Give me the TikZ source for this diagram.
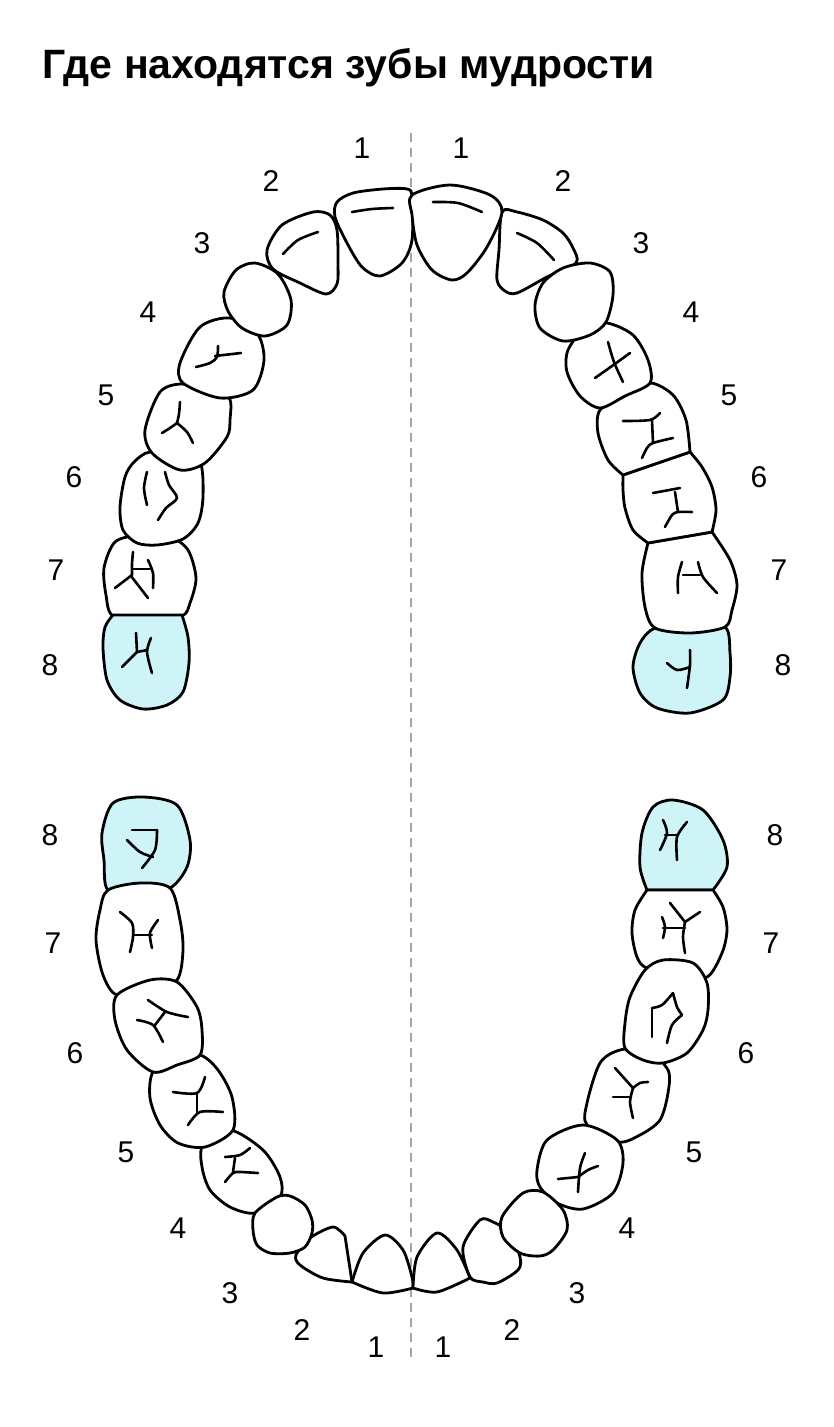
\documentclass[tikz,border=0pt]{standalone}
\usepackage{fontspec}
\setmainfont{Liberation Sans}
\definecolor{wisdomcyan}{RGB}{206,244,248}
\definecolor{midline}{RGB}{165,165,165}
\tikzset{
	tooth/.style={line width=2.8pt, line join=round, fill=white},
	wisdom/.style={tooth, fill=wisdomcyan},
	groove/.style={line width=2.6pt, line cap=round, line join=round},
	num/.style={inner sep=0pt, font=\fontsize{30}{30}\selectfont},
}
\begin{document}
\begin{tikzpicture}[x=1pt,y=-1pt]
		%%%%% START %%%%%
		\fill[white] (0,0) rectangle (834,1427);
		\useasboundingbox (0,0) rectangle (834,1427);
		
		\node[anchor=base west, inner sep=0pt, font=\fontsize{41}{41}\selectfont\bfseries] (title) at (42,78) {Где находятся зубы мудрости};
		
		\coordinate (midtop) at (411,133);
		\coordinate (midbot) at (411,1358);
		\draw[midline, line width=1.8pt, dash pattern=on 9pt off 6pt] (midtop) -- (midbot);
		
		%% upper left
		\draw[tooth] plot[smooth cycle] coordinates {(113,616) (106,595) (104,568) (115,542) (140,535) (170,537) (188,550) (196,578) (190,603) (182,616) (148,621)};
		\draw[wisdom] (113,615) -- plot[smooth] coordinates {(182,615) (188,637) (189,663) (183,692) (167,705) (143,709) (120,700) (107,680) (103,648) (105,627) (113,615)} -- cycle;
		\draw[tooth] plot[smooth cycle] coordinates {(150,452) (178,458) (200,462) (203,497) (198,523) (183,539) (157,545) (137,543) (123,530) (120,507) (125,477) (134,462)};
		\draw[tooth] plot[smooth cycle] coordinates {(160,392) (182,384) (205,392) (229,398) (230,420) (227,437) (205,463) (180,470) (152,453) (145,430)};
		\draw[tooth] plot[smooth cycle] coordinates {(180,363) (200,327) (230,318) (257,333) (264,360) (253,390) (220,398) (183,383)};
		\draw[tooth] plot[smooth cycle] coordinates {(267,250) (282,225) (313,212) (330,215) (337,230) (338,263) (337,284) (326,294) (300,283) (273,269)};
		\draw[tooth] plot[smooth cycle] coordinates {(224,292) (236,270) (255,263) (278,274) (291,300) (287,325) (265,336) (242,328) (228,311)};
		\draw[tooth] plot[smooth cycle] coordinates {(337,202) (353,193) (383,189) (407,189) (412,197) (412,240) (402,263) (380,276) (362,267) (347,243) (335,217)};
		
		\draw[groove] plot[smooth] coordinates {(352,212) (372,209) (393,208)};
		\draw[groove] plot[smooth] coordinates {(283,254) (298,240) (318,232)};
		\draw[groove] plot[smooth] coordinates {(196,367) (210,363) (217,357) (218,346)};
		\draw[groove] (215,356) -- (241,353);
		\draw[groove] plot[smooth] coordinates {(180,402) (179,414) (177,423)};
		\draw[groove] plot[smooth] coordinates {(177,423) (170,428) (162,433)};
		\draw[groove] plot[smooth] coordinates {(177,423) (187,432) (193,443)};
		\draw[groove] plot[smooth] coordinates {(147,472) (144,488) (147,505)};
		\draw[groove] plot[smooth] coordinates {(165,472) (169,485) (177,498) (166,508) (158,520)};
		\draw[groove] plot[smooth] coordinates {(133,552) (132,564) (132,575)};
		\draw[groove] (132,575) -- (115,588);
		\draw[groove] (131,576) -- (148,598);
		\draw[groove] (133,569) -- (150,569);
		\draw[groove] plot[smooth] coordinates {(148,560) (153,573) (153,588)};
		\draw[groove] (136,633) -- (137,652) -- (122,667);
		\draw[groove] (137,652) -- (147,650);
		\draw[groove] plot[smooth] coordinates {(151,638) (147,652) (152,673)};
		
		%% upper right
		\draw[wisdom] plot[smooth cycle] coordinates {(655,628) (690,624) (725,627) (730,653) (730,677) (723,700) (690,713) (657,708) (640,693) (633,667) (640,643)};
		\draw[tooth] (648,543) -- plot[smooth] coordinates {(712,532) (730,560) (737,585) (732,610) (725,627) (690,633) (655,628) (645,607) (642,573) (648,543)} -- cycle;
		\draw[tooth] (623,475) -- (690,452) -- plot[smooth] coordinates {(690,452) (702,467) (712,487) (716,510) (712,532)} -- (648,543) -- plot[smooth] coordinates {(648,543) (633,530) (625,508) (623,490) (623,475)} -- cycle;
		\draw[tooth] (690,452) -- (623,475) -- plot[smooth] coordinates {(623,475) (608,460) (598,433) (600,410) (625,396) (650,383) (673,395) (686,420) (690,452)} -- cycle;
		\draw[tooth] plot[smooth cycle] coordinates {(568,350) (585,328) (607,323) (633,335) (648,360) (650,383) (625,396) (600,408) (580,396) (567,372)};
		\draw[tooth] plot[smooth cycle] coordinates {(502,212) (517,212) (543,220) (563,233) (573,248) (576,263) (547,277) (517,293) (505,291) (497,280) (499,250)};
		\draw[tooth] plot[smooth cycle] coordinates {(543,283) (563,268) (590,263) (610,272) (613,295) (606,322) (590,335) (563,341) (540,328) (535,305)};
		\draw[tooth] plot[smooth cycle] coordinates {(412,195) (450,185) (490,195) (502,212) (487,247) (467,273) (452,280) (432,270) (417,245) (412,215)};
		
		\draw[groove] plot[smooth] coordinates {(433,202) (458,203) (482,212)};
		\draw[groove] plot[smooth] coordinates {(517,233) (537,243) (554,260)};
		\draw[groove] plot[smooth] coordinates {(608,342) (614,362) (623,382)};
		\draw[groove] plot[smooth] coordinates {(595,378) (612,366) (630,353)};
		\draw[groove] plot[smooth] coordinates {(623,421) (650,420) (660,413)};
		\draw[groove] (652,420) -- (653,443);
		\draw[groove] plot[smooth] coordinates {(642,458) (647,448) (653,443) (673,438)};
		\draw[groove] (653,493) -- (680,488);
		\draw[groove] (675,492) -- (678,512);
		\draw[groove] plot[smooth] coordinates {(665,527) (672,515) (678,512) (692,512)};
		\draw[groove] plot[smooth] coordinates {(682,562) (678,577) (678,593)};
		\draw[groove] (683,575) -- (700,575);
		\draw[groove] plot[smooth] coordinates {(698,562) (703,577) (717,593)};
		\draw[groove] plot[smooth] coordinates {(667,663) (677,670) (690,667)};
		\draw[groove] plot[smooth] coordinates {(690,650) (690,665) (687,688)};
		
		%% lower left
		\draw[wisdom] plot[smooth cycle] coordinates {(108,890) (104,860) (102,833) (113,803) (143,797) (177,805) (190,840) (187,867) (170,888) (140,890)};
		\draw[tooth] plot[smooth cycle] coordinates {(108,890) (140,883) (170,888) (180,920) (183,950) (177,980) (150,990) (117,995) (103,975) (96,940) (100,910)};
		\draw[tooth] plot[smooth cycle] coordinates {(203,1145) (230,1130) (263,1150) (280,1177) (280,1197) (255,1213) (230,1207) (210,1190) (202,1167)};
		\draw[tooth] plot[smooth cycle] coordinates {(153,1072) (175,1060) (200,1055) (218,1070) (232,1097) (233,1130) (205,1147) (178,1143) (160,1125) (150,1098)};
		\draw[tooth] plot[smooth cycle] coordinates {(117,995) (150,980) (177,982) (197,1007) (202,1030) (200,1055) (177,1065) (153,1072) (127,1050) (115,1020)};
		\draw[tooth] (352,1282) -- plot[smooth] coordinates {(352,1282) (323,1278) (300,1265) (296,1255) (310,1238) (333,1227) (345,1236)} -- cycle;
		\draw[tooth] plot[smooth cycle] coordinates {(255,1213) (277,1197) (290,1196) (305,1205) (312,1220) (312,1233) (305,1247) (290,1253) (270,1253) (257,1245) (253,1230)};
		\draw[tooth] (352,1282) -- plot[smooth] coordinates {(352,1282) (363,1253) (385,1235) (403,1250) (412,1277) (413,1288)} -- plot[smooth] coordinates {(413,1288) (383,1293) (352,1282)} -- cycle;
		
		\draw[groove] (132,830) -- (157,830);
		\draw[groove] plot[smooth] coordinates {(157,830) (155,850) (142,868)};
		\draw[groove] plot[smooth] coordinates {(127,840) (140,852) (153,857)};
		\draw[groove] plot[smooth] coordinates {(120,912) (132,923) (133,937) (130,952)};
		\draw[groove] (133,935) -- (152,935);
		\draw[groove] plot[smooth] coordinates {(158,920) (150,933) (152,948)};
		\draw[groove] plot[smooth] coordinates {(148,1000) (167,1012) (188,1017)};
		\draw[groove] (165,1012) -- (155,1025);
		\draw[groove] plot[smooth] coordinates {(137,1020) (153,1025) (163,1042)};
		\draw[groove] plot[smooth] coordinates {(173,1092) (197,1093) (205,1077)};
		\draw[groove] (197,1093) -- (197,1113);
		\draw[groove] plot[smooth] coordinates {(188,1125) (200,1112) (223,1112)};
		\draw[groove] plot[smooth] coordinates {(225,1157) (240,1155) (250,1148)};
		\draw[groove] (235,1158) -- (233,1172);
		\draw[groove] plot[smooth] coordinates {(225,1182) (233,1173) (240,1172) (258,1173)};
		
		%% lower right
		\draw[wisdom] (713,890) -- plot[smooth] coordinates {(647,890) (640,867) (642,833) (653,807) (673,800) (703,810) (723,840) (727,867) (713,890)} -- cycle;
		\draw[tooth] (647,890) -- plot[smooth] coordinates {(713,890) (723,907) (727,930) (722,953) (707,977) (680,972) (647,968) (637,957) (632,933) (635,910) (647,890)} -- cycle;
		\draw[tooth] plot[smooth cycle] coordinates {(587,1103) (600,1063) (620,1050) (647,1050) (668,1070) (668,1093) (660,1120) (640,1135) (618,1142) (587,1125)};
		\draw[tooth] plot[smooth cycle] coordinates {(537,1170) (547,1140) (583,1125) (617,1140) (623,1163) (613,1193) (583,1209) (557,1203) (540,1187)};
		\draw[tooth] plot[smooth cycle] coordinates {(625,1048) (625,1023) (630,997) (645,970) (663,960) (693,963) (707,983) (708,1010) (703,1030) (687,1053) (663,1063) (643,1060)};
		\draw[tooth] plot[smooth cycle] coordinates {(470,1277) (463,1247) (480,1220) (493,1222) (510,1233) (520,1257) (518,1270) (497,1283) (483,1282)};
		\draw[tooth] plot[smooth cycle] coordinates {(502,1217) (523,1193) (543,1192) (563,1210) (567,1230) (553,1250) (540,1256) (520,1253) (503,1237)};
		\draw[tooth] (413,1288) -- plot[smooth] coordinates {(413,1288) (417,1257) (437,1233) (457,1250) (470,1278)} -- plot[smooth] coordinates {(470,1278) (437,1292) (413,1288)} -- cycle;
		
		\draw[groove] (558,1179) -- (578,1177);
		\draw[groove] plot[smooth] coordinates {(578,1177) (588,1170) (598,1166)};
		\draw[groove] plot[smooth] coordinates {(585,1153) (580,1168) (578,1192)};
		\draw[groove] (615,1068) -- (633,1088);
		\draw[groove] plot[smooth] coordinates {(633,1088) (630,1102) (633,1118)};
		\draw[groove] (613,1097) -- (631,1097);
		\draw[groove] plot[smooth] coordinates {(633,1088) (640,1083) (648,1082)};
		\draw[groove] (652,1008) -- (652,1037);
		\draw[groove] plot[smooth] coordinates {(652,1008) (662,1005) (673,993)};
		\draw[groove] plot[smooth] coordinates {(673,993) (677,1007) (682,1015)};
		\draw[groove] plot[smooth] coordinates {(682,1015) (672,1025) (667,1043)};
		\draw[groove] plot[smooth] coordinates {(662,917) (665,927) (663,938)};
		\draw[groove] (663,928) -- (685,928);
		\draw[groove] (670,903) -- (685,922) -- (700,912);
		\draw[groove] plot[smooth] coordinates {(685,922) (683,937) (685,953)};
		\draw[groove] plot[smooth] coordinates {(663,820) (667,833) (660,850)};
		\draw[groove] (665,835) -- (678,835);
		\draw[groove] plot[smooth] coordinates {(687,822) (677,837) (677,860)};
		
		%% numbers
		\node[num] (ul1) at (362,148) {1};
		\node[num] (ul2) at (271,181) {2};
		\node[num] (ul3) at (202,243) {3};
		\node[num] (ul4) at (148,312) {4};
		\node[num] (ul5) at (106,395) {5};
		\node[num] (ul6) at (74,477) {6};
		\node[num] (ul7) at (56,570) {7};
		\node[num] (ul8) at (50,665) {8};
		
		\node[num] (ur1) at (461,148) {1};
		\node[num] (ur2) at (563,181) {2};
		\node[num] (ur3) at (641,243) {3};
		\node[num] (ur4) at (691,312) {4};
		\node[num] (ur5) at (729,395) {5};
		\node[num] (ur6) at (759,477) {6};
		\node[num] (ur7) at (779,570) {7};
		\node[num] (ur8) at (783,665) {8};
		
		\node[num] (ll8) at (50,835) {8};
		\node[num] (ll7) at (53,943) {7};
		\node[num] (ll6) at (75,1053) {6};
		\node[num] (ll5) at (126,1152) {5};
		\node[num] (ll4) at (178,1228) {4};
		\node[num] (ll3) at (230,1293) {3};
		\node[num] (ll2) at (302,1330) {2};
		\node[num] (ll1) at (376,1347) {1};
		
		\node[num] (lr8) at (775,835) {8};
		\node[num] (lr7) at (771,943) {7};
		\node[num] (lr6) at (746,1053) {6};
		\node[num] (lr5) at (694,1152) {5};
		\node[num] (lr4) at (627,1228) {4};
		\node[num] (lr3) at (577,1293) {3};
		\node[num] (lr2) at (512,1330) {2};
		\node[num] (lr1) at (443,1347) {1};
		%%%%% END %%%%%
	\end{tikzpicture}
\end{document}
